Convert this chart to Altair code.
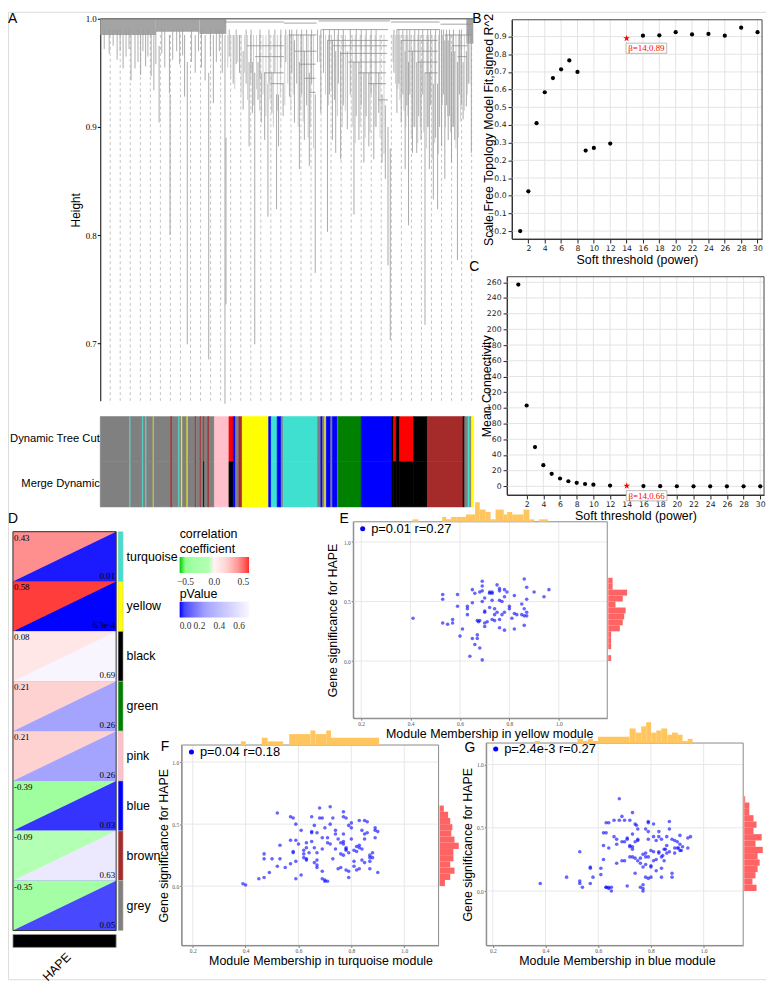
import altair as alt
import pandas as pd

W, H = 764, 975
M = 8
SANS = "Liberation Sans"
SERIF = "Liberation Serif"
DEJA = "DejaVu Sans"


def cx(p):
    return p - M


def cy(p):
    return p - M


def lin(dom, r0, r1):
    return alt.Scale(domain=list(dom), range=[r0, r1], nice=False, zero=False)


# ======================= DATA =======================
# ---- Panel A: gene dendrogram (gene order index, merge height) ----
dash_pos = [100, 201, 302, 404, 505, 606, 707, 808, 910, 1011, 1112, 1213, 1314, 1416, 1517, 1618, 1719,
            1820, 1922, 2023, 2124, 2225, 2326, 2428, 2529, 2630, 2731, 2832, 2934, 3035, 3136, 3237,
            3338, 3440, 3541, 3642, 3743]
den_leaf = [230, 310, 350, 407, 457, 513, 540, 593, 697, 703, 850, 877, 957, 1057, 1093, 1140, 1257, 1267,
            1340, 1403, 1440, 1500, 1533, 1557, 1590, 1623, 1657, 1690, 1730, 1777, 1797, 1843, 1907, 1957,
            2007, 2057, 2107, 2167, 2223, 2290, 2340, 2373, 2423, 2490, 2557, 2607, 2657, 2707, 2757, 2807,
            2840, 2873, 2923, 2900, 2990, 3033, 3073, 3107, 3147, 3190, 3233, 3273, 3317, 3357, 3400, 3440,
            3473, 3507, 3540, 3573, 3600, 3657, 3690, 3740]
den_top = [0.985, 0.985, 0.985, 0.985, 0.985, 0.985, 0.985, 0.975, 0.985, 0.93, 0.985, 0.96, 0.985, 0.985,
           0.95, 0.985, 0.985, 0.89, 0.985, 0.985, 0.97, 0.96, 0.96, 0.95, 0.96, 0.95, 0.95, 0.94, 0.95, 0.93,
           0.93, 0.94, 0.99, 0.98, 0.96, 0.97, 0.95, 0.93, 0.99, 0.98, 0.98, 0.97, 0.97, 0.97, 0.96, 0.96,
           0.95, 0.95, 0.94, 0.95, 0.93, 0.92, 0.88, 0.90, 0.99, 0.98, 0.97, 0.96, 0.97, 0.96, 0.96, 0.95,
           0.95, 0.94, 0.94, 0.99, 0.98, 0.98, 0.97, 0.97, 0.96, 0.96, 0.97, 0.99]
den_bot = [0.954, 0.943, 0.954, 0.948, 0.956, 0.947, 0.934, 0.904, 0.931, 0.80, 0.928, 0.699, 0.95, 0.943,
           0.685, 0.922, 0.644, 0.736, 0.94, 0.95, 0.916, 0.882, 0.913, 0.699, 0.925, 0.904, 0.888, 0.817,
           0.913, 0.824, 0.882, 0.91, 0.928, 0.904, 0.861, 0.888, 0.864, 0.765, 0.913, 0.803, 0.888, 0.876,
           0.87, 0.898, 0.819, 0.888, 0.867, 0.882, 0.87, 0.913, 0.867, 0.852, 0.703, 0.772, 0.913, 0.904,
           0.861, 0.809, 0.876, 0.876, 0.888, 0.717, 0.861, 0.833, 0.824, 0.882, 0.852, 0.888, 0.867, 0.888,
           0.777, 0.907, 0.919, 0.876]
short_leaf = [40, 90, 130, 170, 200, 260, 290, 380, 430, 480, 560, 620, 650, 730, 770, 800, 830, 920, 990,
              1020, 1110, 1170, 1200, 1230, 1300, 1370, 1470, 1520, 1610, 1700, 1760, 1820, 1870, 1930, 1980,
              2030, 2080, 2130, 2190, 2250, 2310, 2360, 2400, 2450, 2520, 2580, 2630, 2680, 2730, 2780, 2960,
              3010, 3050, 3090, 3120, 3170, 3210, 3250, 3300, 3330, 3380, 3420, 3460, 3490, 3520, 3560, 3620,
              3640, 3710]
short_bot = [0.972, 0.968, 0.975, 0.962, 0.97, 0.965, 0.972, 0.96, 0.97, 0.965, 0.958, 0.968, 0.955, 0.962,
             0.97, 0.958, 0.966, 0.96, 0.97, 0.955, 0.965, 0.96, 0.97, 0.95, 0.965, 0.958, 0.94, 0.95, 0.945,
             0.94, 0.95, 0.955, 0.96, 0.95, 0.94, 0.93, 0.92, 0.94, 0.96, 0.95, 0.93, 0.925, 0.94, 0.92, 0.93,
             0.91, 0.92, 0.91, 0.93, 0.90, 0.95, 0.94, 0.93, 0.92, 0.93, 0.90, 0.91, 0.93, 0.90, 0.92, 0.89,
             0.90, 0.93, 0.92, 0.91, 0.90, 0.93, 0.92, 0.94]
fine_leaf = [1285, 1315, 1355, 1385, 1420, 1455, 1485, 1515, 1545, 1575, 1605, 1640, 1670, 1710, 1745, 1785,
             1815, 1860, 1890, 1920, 1945, 1995, 2020, 2045, 2095, 2120, 2150, 2210, 2270, 2300, 2330, 2390,
             2440, 2470, 2540, 2570, 2620, 2670, 2720, 2770, 2820, 2860, 2950, 2975, 3000, 3020, 3060, 3080,
             3100, 3135, 3160, 3200, 3225, 3260, 3290, 3310, 3345, 3370, 3410, 3450, 3480, 3500, 3530, 3550,
             3585, 3610, 3630, 3670, 3700, 3725]
fine_bot = [0.955, 0.945, 0.935, 0.96, 0.93, 0.95, 0.925, 0.94, 0.92, 0.935, 0.915, 0.93, 0.91, 0.925, 0.90,
            0.915, 0.93, 0.92, 0.94, 0.915, 0.93, 0.90, 0.915, 0.905, 0.89, 0.90, 0.88, 0.96, 0.93, 0.92, 0.935,
            0.91, 0.90, 0.915, 0.90, 0.885, 0.90, 0.89, 0.895, 0.90, 0.89, 0.875, 0.96, 0.94, 0.935, 0.925,
            0.915, 0.90, 0.91, 0.89, 0.90, 0.885, 0.90, 0.895, 0.88, 0.90, 0.87, 0.885, 0.875, 0.92, 0.90,
            0.91, 0.895, 0.90, 0.88, 0.89, 0.905, 0.915, 0.93, 0.94]
hz_x1 = [1250, 1480, 1560, 1650, 1720, 1850, 1900, 1960, 2010, 2060, 2110, 2200, 2230, 2290, 2340, 2420,
         2500, 2600, 2700, 2800, 2930, 2990, 3030, 3100, 3200, 3270, 3430, 3470, 3540, 3600]
hz_x2 = [1850, 1850, 1850, 1850, 1850, 2180, 2180, 2180, 2170, 2170, 2170, 2920, 2900, 2900, 2890, 2890,
         2880, 2880, 2880, 2900, 3420, 3420, 3400, 3400, 3400, 3400, 3740, 3740, 3700, 3690]
hz_h = [0.997, 0.975, 0.965, 0.95, 0.94, 0.996, 0.985, 0.97, 0.958, 0.945, 0.932, 0.998, 0.99, 0.98, 0.975,
        0.968, 0.96, 0.95, 0.94, 0.925, 0.997, 0.99, 0.98, 0.97, 0.96, 0.95, 0.995, 0.985, 0.975, 0.965]
band_x1 = [0, 560, 1000, 3690]
band_x2 = [560, 1000, 1270, 3760]
band_bot = [0.985, 0.988, 0.986, 0.977]

cb_rows = ["Dynamic Tree Cut", "Merge Dynamic"]
cb_start = [0, 297, 307, 423, 433, 457, 467, 533, 540, 710, 723, 790, 800, 817, 827, 873, 883, 957, 967, 1007,
            1017, 1040, 1050, 1083, 1097, 1150, 1297, 1340, 1363, 1397, 1430, 1697, 1723, 1783, 1823, 1843,
            2190, 2223, 2240, 2263, 2277, 2323, 2340, 2390, 2397, 2630, 2940, 2957, 2983, 3017, 3157, 3297,
            3657, 3673, 3707, 3723, 3740]
cb_end = 3763
cb_dynamic = ["grey", "turquoise", "grey", "turquoise", "grey", "turquoise", "grey", "yellow", "grey", "brown",
              "grey", "turquoise", "grey", "yellow", "grey", "yellow", "grey", "brown", "grey", "brown",
              "grey", "red", "grey", "brown", "grey", "pink", "red", "blue", "grey", "brown",
              "yellow", "blue", "turquoise", "blue", "grey", "turquoise", "grey", "blue", "grey", "yellow",
              "blue", "grey", "blue", "grey", "green", "blue", "black", "red", "black", "red",
              "black", "brown", "black", "grey", "turquoise", "grey", "yellow"]
cb_merge = ["grey", "turquoise", "grey", "turquoise", "grey", "turquoise", "grey", "yellow", "grey", "brown",
            "grey", "turquoise", "grey", "yellow", "grey", "yellow", "grey", "brown", "grey", "brown",
            "grey", "black", "grey", "brown", "grey", "pink", "black", "blue", "grey", "brown",
            "yellow", "blue", "turquoise", "blue", "grey", "turquoise", "grey", "blue", "grey", "yellow",
            "blue", "grey", "blue", "grey", "green", "blue", "black", "black", "black", "black",
            "black", "brown", "black", "grey", "turquoise", "grey", "yellow"]

# ---- Panels B / C: soft threshold ----
powers = [1, 2, 3, 4, 5, 6, 7, 8, 9, 10, 12, 14, 16, 18, 20, 22, 24, 26, 28, 30]
sft_r2 = [-0.20, 0.025, 0.41, 0.585, 0.665, 0.715, 0.765, 0.70, 0.255, 0.27, 0.295, 0.89, 0.905, 0.907,
          0.925, 0.912, 0.915, 0.905, 0.95, 0.925]
mean_k = [257, 103, 50, 27, 16, 10, 6.5, 4.5, 3.0, 2.2, 1.0, 0.66, 0.35, 0.25, 0.15, 0.12, 0.1, 0.08, 0.07, 0.06]
chosen_power = 14

# ---- Panel D: module-trait relationships ----
modules = ["turquoise", "yellow", "black", "green", "pink", "blue", "brown", "grey"]
mod_cor = [0.43, 0.58, 0.08, 0.21, 0.21, -0.39, -0.09, -0.35]
mod_cor_lab = ["0.43", "0.58", "0.08", "0.21", "0.21", "-0.39", "-0.09", "-0.35"]
mod_p = [0.01, 0.00063, 0.69, 0.26, 0.26, 0.03, 0.63, 0.05]
mod_p_lab = ["0.01", "6.3e-4", "0.69", "0.26", "0.26", "0.03", "0.63", "0.05"]
trait = ["HAPE"]

# ---- Panels E / F / G: MM vs GS ----
E_stat = "p=0.01 r=0.27"
E_mm = [0.41, 0.53, 0.53, 0.53, 0.55, 0.57, 0.57, 0.59, 0.59, 0.60, 0.61, 0.63, 0.63, 0.63, 0.64, 0.65, 0.65,
        0.65, 0.66, 0.66, 0.67, 0.67, 0.67, 0.675, 0.68, 0.68, 0.69, 0.69, 0.69, 0.69, 0.70, 0.70, 0.70, 0.70,
        0.70, 0.71, 0.72, 0.72, 0.73, 0.73, 0.73, 0.74, 0.74, 0.74, 0.75, 0.75, 0.76, 0.76, 0.76, 0.76, 0.76,
        0.77, 0.77, 0.78, 0.78, 0.78, 0.78, 0.79, 0.80, 0.80, 0.81, 0.82, 0.82, 0.82, 0.83, 0.85, 0.86, 0.86,
        0.86, 0.86, 0.87, 0.87, 0.87, 0.87, 0.90, 0.94, 0.96, 0.69, 0.68, 0.72, 0.73, 0.85]
E_gs = [0.36, 0.56, 0.52, 0.32, 0.31, 0.35, 0.32, 0.56, 0.46, 0.21, 0.27, 0.46, 0.44, 0.39, 0.04, 0.60, 0.19,
        0.49, 0.14, 0.57, 0.22, 0.19, 0.34, 0.33, 0.11, 0.58, 0.67, 0.50, 0.01, 0.59, 0.32, 0.42, 0.53, 0.41,
        0.29, 0.33, 0.45, 0.58, 0.57, 0.35, 0.51, 0.34, 0.44, 0.39, 0.64, 0.41, 0.61, 0.59, 0.35, 0.28, 0.51,
        0.50, 0.39, 0.41, 0.26, 0.60, 0.54, 0.58, 0.46, 0.44, 0.36, 0.40, 0.55, 0.27, 0.39, 0.48, 0.69, 0.38,
        0.44, 0.30, 0.62, 0.41, 0.38, 0.52, 0.58, 0.54, 0.60, 0.63, 0.34, 0.57, 0.58, 0.39]
E_top_lo = [0.408, 0.528, 0.544, 0.564, 0.587, 0.624, 0.661, 0.680, 0.704, 0.724, 0.744, 0.777, 0.791, 0.811,
            0.831, 0.857, 0.881, 0.920]
E_top_hi = [0.431, 0.544, 0.564, 0.587, 0.624, 0.661, 0.680, 0.704, 0.724, 0.744, 0.777, 0.791, 0.811, 0.831,
            0.857, 0.881, 0.901, 0.957]
E_top_n = [1, 2, 1, 2, 2, 3, 8, 5, 4, 1, 5, 3, 4, 3, 3, 5, 1, 1]
E_right_lo = [0.00, 0.05, 0.10, 0.15, 0.20, 0.25, 0.30, 0.35, 0.40, 0.45, 0.50, 0.55, 0.60, 0.65]
E_right_n = [2, 0, 2, 2, 2, 8, 10, 11, 12, 5, 10, 13, 3, 3]

F_stat = "p=0.04 r=0.18"
F_mm = [0.39, 0.40, 0.45, 0.47, 0.47, 0.47, 0.49, 0.50, 0.52, 0.52, 0.53, 0.53, 0.55, 0.57, 0.57, 0.57, 0.58,
        0.58, 0.58, 0.59, 0.59, 0.59, 0.59, 0.60, 0.61, 0.62, 0.62, 0.62, 0.63, 0.63, 0.63, 0.63, 0.64, 0.65,
        0.65, 0.65, 0.65, 0.66, 0.66, 0.66, 0.67, 0.67, 0.67, 0.68, 0.68, 0.69, 0.69, 0.69, 0.69, 0.69, 0.70,
        0.70, 0.70, 0.71, 0.71, 0.71, 0.72, 0.72, 0.72, 0.73, 0.73, 0.74, 0.74, 0.75, 0.75, 0.76, 0.76, 0.77,
        0.77, 0.77, 0.77, 0.77, 0.77, 0.78, 0.78, 0.78, 0.78, 0.78, 0.79, 0.79, 0.79, 0.80, 0.80, 0.81, 0.81,
        0.81, 0.82, 0.82, 0.82, 0.83, 0.83, 0.83, 0.83, 0.84, 0.84, 0.84, 0.85, 0.85, 0.85, 0.85, 0.86, 0.87,
        0.87, 0.87, 0.87, 0.88, 0.88, 0.89, 0.89, 0.89, 0.90, 0.90, 0.74, 0.76, 0.80, 0.79, 0.67, 0.61, 0.67,
        0.86]
F_gs = [0.02, 0.01, 0.06, 0.07, 0.22, 0.26, 0.11, 0.22, 0.59, 0.16, 0.33, 0.22, 0.15, 0.37, 0.56, 0.18, 0.28,
        0.55, 0.27, 0.50, 0.06, 0.37, 0.20, 0.34, 0.09, 0.26, 0.23, 0.29, 0.31, 0.22, 0.35, 0.21, 0.27, 0.56,
        0.43, 0.36, 0.44, 0.19, 0.49, 0.31, 0.27, 0.17, 0.15, 0.55, 0.63, 0.55, 0.39, 0.12, 0.06, 0.30, 0.04,
        0.05, 0.47, 0.35, 0.39, 0.04, 0.64, 0.50, 0.34, 0.22, 0.55, 0.42, 0.45, 0.14, 0.38, 0.15, 0.35, 0.36,
        0.42, 0.25, 0.56, 0.60, 0.34, 0.31, 0.30, 0.13, 0.29, 0.55, 0.07, 0.49, 0.12, 0.51, 0.47, 0.29, 0.20,
        0.16, 0.32, 0.13, 0.28, 0.53, 0.33, 0.31, 0.14, 0.45, 0.21, 0.30, 0.53, 0.42, 0.19, 0.38, 0.43, 0.20,
        0.14, 0.23, 0.25, 0.23, 0.27, 0.47, 0.45, 0.39, 0.44, 0.11, 0.30, 0.26, 0.38, 0.27, 0.21, 0.45, 0.43,
        0.52]
F_top_lo = [0.382, 0.461, 0.483, 0.565, 0.645, 0.664, 0.705, 0.723]
F_top_hi = [0.401, 0.483, 0.542, 0.645, 0.664, 0.705, 0.723, 0.905]
F_top_n = [1, 2, 1, 3, 4, 3, 4, 2]
F_right_lo = [0.00, 0.05, 0.10, 0.15, 0.20, 0.25, 0.30, 0.35, 0.40, 0.45, 0.50, 0.55, 0.60]
F_right_n = [5, 10, 14, 10, 13, 13, 18, 14, 11, 12, 10, 8, 4]

G_stat = "p=2.4e-3 r=0.27"
G_mm = [0.38, 0.48, 0.53, 0.53, 0.53, 0.54, 0.57, 0.57, 0.57, 0.58, 0.61, 0.61, 0.62, 0.62, 0.62, 0.63, 0.63,
        0.63, 0.63, 0.64, 0.64, 0.64, 0.64, 0.65, 0.65, 0.66, 0.66, 0.67, 0.68, 0.68, 0.69, 0.69, 0.69, 0.70,
        0.70, 0.71, 0.71, 0.71, 0.72, 0.72, 0.72, 0.73, 0.73, 0.73, 0.73, 0.73, 0.74, 0.74, 0.74, 0.745, 0.74,
        0.75, 0.75, 0.75, 0.76, 0.76, 0.76, 0.77, 0.77, 0.77, 0.77, 0.77, 0.78, 0.78, 0.78, 0.78, 0.78, 0.79,
        0.79, 0.79, 0.79, 0.79, 0.79, 0.80, 0.80, 0.80, 0.80, 0.81, 0.81, 0.81, 0.81, 0.82, 0.82, 0.82, 0.83,
        0.83, 0.83, 0.83, 0.84, 0.84, 0.84, 0.845, 0.85, 0.85, 0.855, 0.86, 0.86, 0.86, 0.87, 0.87, 0.87, 0.88,
        0.88, 0.88, 0.89, 0.89, 0.89, 0.90, 0.90, 0.905, 0.91, 0.91, 0.91, 0.915, 0.92, 0.94, 0.94, 0.95, 0.70,
        0.67, 0.75, 0.84, 0.67, 0.72]
G_gs = [0.06, 0.11, 0.06, 0.31, 0.08, 0.03, 0.06, 0.18, 0.19, 0.11, 0.13, 0.18, 0.46, 0.25, 0.36, 0.03, 0.54,
        0.03, 0.46, 0.54, 0.34, 0.03, 0.02, 0.03, 0.00, 0.43, 0.56, 0.22, 0.56, 0.73, 0.39, 0.24, 0.59, 0.24,
        0.39, 0.04, 0.41, 0.42, 0.56, 0.36, 0.35, 0.27, 0.62, 0.35, 0.33, 0.45, 0.53, 0.39, 0.14, 0.52, 0.26,
        0.40, 0.49, 0.41, 0.26, 0.22, 0.03, 0.05, 0.02, 0.00, 0.19, 0.29, 0.30, 0.27, 0.21, 0.49, 0.11, 0.27,
        0.54, 0.55, 0.10, 0.47, 0.41, 0.20, 0.19, 0.11, 0.32, 0.43, 0.53, 0.24, 0.31, 0.40, 0.16, 0.25, 0.47,
        0.31, 0.30, 0.43, 0.27, 0.11, 0.18, 0.28, 0.24, 0.33, 0.33, 0.30, 0.36, 0.43, 0.31, 0.55, 0.49, 0.11,
        0.41, 0.14, 0.30, 0.34, 0.40, 0.34, 0.39, 0.34, 0.32, 0.37, 0.44, 0.32, 0.35, 0.42, 0.34, 0.43, 0.56,
        0.41, 0.24, 0.41, 0.37, 0.27]
G_top_lo = [0.360, 0.521, 0.542, 0.561, 0.580, 0.599, 0.719, 0.742, 0.763, 0.782, 0.801, 0.820, 0.839, 0.862,
            0.880, 0.902, 0.920, 0.939]
G_top_hi = [0.379, 0.542, 0.561, 0.580, 0.599, 0.719, 0.742, 0.763, 0.782, 0.801, 0.820, 0.839, 0.862, 0.880,
            0.902, 0.920, 0.939, 0.958]
G_top_n = [1, 2, 1, 2, 1, 3, 7, 5, 8, 10, 5, 6, 7, 4, 5, 4, 1, 2]
G_right_lo = [0.00, 0.05, 0.10, 0.15, 0.20, 0.25, 0.30, 0.35, 0.40, 0.45, 0.50, 0.55, 0.60, 0.65, 0.70]
G_right_n = [12, 8, 11, 13, 15, 13, 18, 11, 17, 9, 12, 9, 5, 5, 1]
GS_BIN = 0.05

# ======================= CHART =======================
STAR = ("M0,-1L0.2245,-0.309L0.9511,-0.309L0.3633,0.118L0.5878,0.809L0,0.382L-0.5878,0.809"
        "L-0.3633,0.118L-0.9511,-0.309L-0.2245,-0.309Z")
BOXPATH = "M-1,-0.25L1,-0.25L1,0.25L-1,0.25Z"

layers = []


def grid_layers(xvals, yvals, XS, YS, xdom, ydom, color):
    out = []
    gx = pd.DataFrame({"v": xvals})
    gx["a"] = ydom[0]
    gx["b"] = ydom[1]
    out.append(alt.Chart(gx).mark_rule(color=color, strokeWidth=1).encode(
        x=alt.X("v:Q", scale=XS, axis=None), y=alt.Y("a:Q", scale=YS, axis=None), y2="b:Q"))
    gy = pd.DataFrame({"v": yvals})
    gy["a"] = xdom[0]
    gy["b"] = xdom[1]
    out.append(alt.Chart(gy).mark_rule(color=color, strokeWidth=1).encode(
        y=alt.Y("v:Q", scale=YS, axis=None), x=alt.X("a:Q", scale=XS, axis=None), x2="b:Q"))
    return out


# ---------------- Panel A ----------------
GENE = (0, 3760)
HGT = (0.6468, 1.0)
GX = lin(GENE, cx(101), cx(477))
HY = lin(HGT, cy(400), cy(15))

axis_a = alt.Axis(orient="left", offset=-cx(101), values=[0.7, 0.8, 0.9, 1.0], format=".1f",
                  labelFont=SERIF, labelFontSize=9, labelColor="black", labelPadding=1, tickSize=3,
                  tickColor="black", domainColor="black", grid=False, title="Height", titleFont=SANS,
                  titleFontSize=12, titleFontWeight="normal", titleColor="black", titlePadding=3,
                  labelOverlap=False)

dash_df = pd.DataFrame({"g": dash_pos})
dash_df["top"] = 0.985
dash_df["bot"] = HGT[0]
layers.append(alt.Chart(dash_df).mark_rule(color="#b3b3b3", strokeDash=[3, 3], strokeWidth=0.8).encode(
    x=alt.X("g:Q", scale=GX, axis=None), y=alt.Y("top:Q", scale=HY, axis=None), y2="bot:Q"))

band_df = pd.DataFrame(list(zip(band_x1, band_x2, band_bot)), columns=["x1", "x2", "bot"])
band_df["top"] = HGT[1]
layers.append(alt.Chart(band_df).mark_rect(color="#a4a4a4").encode(
    x=alt.X("x1:Q", scale=GX, axis=None), x2="x2:Q", y=alt.Y("top:Q", scale=HY, axis=None), y2="bot:Q"))

fine_df = pd.DataFrame(list(zip(fine_leaf, fine_bot)), columns=["g", "bot"])
fine_df["top"] = 0.985
layers.append(alt.Chart(fine_df).mark_rule(color="#c2c2c2", strokeWidth=0.8).encode(
    x=alt.X("g:Q", scale=GX, axis=None), y=alt.Y("top:Q", scale=HY, axis=None), y2="bot:Q"))

short_df = pd.DataFrame(list(zip(short_leaf, short_bot)), columns=["g", "bot"])
short_df["top"] = 0.99
layers.append(alt.Chart(short_df).mark_rule(color="#9a9a9a", strokeWidth=0.8).encode(
    x=alt.X("g:Q", scale=GX, axis=None), y=alt.Y("top:Q", scale=HY, axis=None), y2="bot:Q"))

den_df = pd.DataFrame(list(zip(den_leaf, den_top, den_bot)), columns=["g", "top", "bot"])
layers.append(alt.Chart(den_df).mark_rule(color="#a0a0a0", strokeWidth=0.9).encode(
    x=alt.X("g:Q", scale=GX, axis=None), y=alt.Y("top:Q", scale=HY, axis=axis_a), y2="bot:Q"))

hz_df = pd.DataFrame(list(zip(hz_x1, hz_x2, hz_h)), columns=["x1", "x2", "h"])
layers.append(alt.Chart(hz_df).mark_rule(color="#8c8c8c", strokeWidth=0.8).encode(
    x=alt.X("x1:Q", scale=GX, axis=None), x2="x2:Q", y=alt.Y("h:Q", scale=HY, axis=None)))

topline_df = pd.DataFrame({"x1": [GENE[0]], "x2": [GENE[1]], "h": [HGT[1]]})
layers.append(alt.Chart(topline_df).mark_rule(color="#7c7c7c", strokeWidth=1.5).encode(
    x=alt.X("x1:Q", scale=GX, axis=None), x2="x2:Q", y=alt.Y("h:Q", scale=HY, axis=None)))

cb = []
for i, s in enumerate(cb_start):
    e = cb_start[i + 1] if i + 1 < len(cb_start) else cb_end
    cb.append({"s": s, "e": e, "row": cb_rows[0], "c": cb_dynamic[i]})
    cb.append({"s": s, "e": e, "row": cb_rows[1], "c": cb_merge[i]})
cb_df = pd.DataFrame(cb)
layers.append(alt.Chart(cb_df).mark_rect(strokeWidth=0.6).encode(
    x=alt.X("s:Q", scale=GX, axis=None), x2="e:Q",
    y=alt.Y("row:N", sort=cb_rows,
            scale=alt.Scale(domain=cb_rows, range=[cy(416), cy(507)], paddingInner=0, paddingOuter=0),
            axis=alt.Axis(orient="left", offset=-cx(101), ticks=False, domain=False, labelFont=SANS,
                          labelFontSize=11.3, labelColor="black", labelPadding=1, labelLimit=0, title=None)),
    color=alt.Color("c:N", scale=None),
    stroke=alt.Stroke("c:N", scale=None)))


# ---------------- Panels B / C ----------------
def bc_xaxis(bottom_page):
    return alt.Axis(orient="bottom", offset=cy(bottom_page) - H, values=list(range(2, 31, 2)),
                    labelFont=DEJA, labelFontSize=7.8, labelColor="#222", labelPadding=2, tickSize=4,
                    tickColor="#222", domainColor="#222", grid=False,
                    title="Soft threshold (power)", titleFont=SANS, titleFontSize=12.5,
                    titleFontWeight="normal", titleColor="black", titlePadding=1, labelFlush=False,
                    labelOverlap=False)


def bc_yaxis(left_page, values, fmt, title, tpad):
    return alt.Axis(orient="left", offset=-cx(left_page), values=values, format=fmt,
                    labelFont=DEJA, labelFontSize=7.8, labelColor="#222", labelPadding=2, tickSize=4,
                    tickColor="#222", domainColor="#222", grid=False,
                    title=title, titleFont=SANS, titleFontSize=12.5, titleFontWeight="normal",
                    titleColor="black", titlePadding=tpad, labelFlush=False, labelOverlap=False)


sel = powers.index(chosen_power)
X_TICKS_BC = list(range(2, 31, 2))


def soft_panel(vals, xdom, ydom, box, yvalues, yfmt, ytitle, ytpad):
    left, right, top, bottom = box
    XS = lin(xdom, cx(left), cx(right))
    YS = lin(ydom, cy(bottom), cy(top))
    out = grid_layers(X_TICKS_BC, yvalues, XS, YS, xdom, ydom, "#e3e3e3")
    frame = pd.DataFrame({"x0": [xdom[0]], "x1": [xdom[1]], "y0": [ydom[0]], "y1": [ydom[1]]})
    out.append(alt.Chart(frame).mark_rect(fillOpacity=0, stroke="#444", strokeWidth=1).encode(
        x=alt.X("x0:Q", scale=XS, axis=None), x2="x1:Q", y=alt.Y("y0:Q", scale=YS, axis=None), y2="y1:Q"))
    df = pd.DataFrame({"p": powers, "v": vals})
    pts = df[df["p"] != chosen_power]
    out.append(alt.Chart(pts).mark_circle(size=18, color="black", opacity=1).encode(
        x=alt.X("p:Q", scale=XS, axis=bc_xaxis(bottom)),
        y=alt.Y("v:Q", scale=YS, axis=bc_yaxis(left, yvalues, yfmt, ytitle, ytpad))))
    star = df[df["p"] == chosen_power].copy()
    star["lab"] = "\u03b2=%d,%.2f" % (chosen_power, vals[sel])
    out.append(alt.Chart(star).mark_point(shape=BOXPATH, size=1681, filled=True, fill="white",
                                          stroke="#aaaaaa", strokeWidth=0.8, opacity=1,
                                          xOffset=20, yOffset=10).encode(
        x=alt.X("p:Q", scale=XS, axis=None), y=alt.Y("v:Q", scale=YS, axis=None)))
    out.append(alt.Chart(star).mark_point(shape=STAR, filled=True, color="red", size=50, opacity=1).encode(
        x=alt.X("p:Q", scale=XS, axis=None), y=alt.Y("v:Q", scale=YS, axis=None)))
    out.append(alt.Chart(star).mark_text(color="red", font=SERIF, fontSize=9, dx=20, dy=10).encode(
        x=alt.X("p:Q", scale=XS, axis=None), y=alt.Y("v:Q", scale=YS, axis=None), text="lab:N"))
    return out


layers += soft_panel(sft_r2, (0, 30.55), (-0.245, 0.995), (516, 768, 16, 237),
                     [-0.2, -0.1, 0.0, 0.1, 0.2, 0.3, 0.4, 0.5, 0.6, 0.7, 0.8, 0.9], ".1f",
                     "Scale Free Topology Model Fit,signed R^2", -8)
layers += soft_panel(mean_k, (-0.35, 30.45), (-11, 267), (511, 770, 275, 495),
                     list(range(0, 261, 20)), "d", "Mean Connectivity", -7)

# ---------------- Panel D ----------------
NM = len(modules)
D_L, D_R, D_T, D_B = 13, 117, 532, 934
DX = lin((0, 1), cx(D_L), cx(D_R))
DY = lin((0, NM), cy(D_T), cy(D_B))
COR_SCALE = alt.Scale(domain=[-0.6, -0.55, -0.35, 0, 0.21, 0.43, 0.6],
                      range=["#00cc00", "#8cff8c", "#a4ffa4", "#ffffff", "#ffd2d2", "#ff8e8e", "#ff2e2e"])
P_SCALE = alt.Scale(domain=[0, 0.05, 0.26, 0.7], range=["#0000ff", "#4848ff", "#a4a4ff", "#ffffff"])

cell_w = D_R - D_L
cell_h = (D_B - D_T) / NM
r = cell_h / cell_w
TRI_UL = "M-1,%.4fL1,%.4fL-1,%.4fZ" % (-r, -r, r)

cells = pd.DataFrame({"module": modules, "cor": mod_cor, "p": mod_p, "cl": mod_cor_lab, "pl": mod_p_lab})
cells["row"] = range(NM)
cells["xc"] = 0.5
cells["yc"] = cells["row"] + 0.5
cells["x0"] = 0
cells["x1"] = 1
cells["yb"] = cells["row"] + 1

leg_common = dict(orient="none", direction="horizontal", titleFont=SANS, titleFontSize=12.5,
                  titleFontWeight="normal", titleColor="black", gradientLength=70, gradientThickness=16,
                  gradientStrokeWidth=0, format=".1f", labelFont=SERIF, labelFontSize=9.5, labelColor="#333",
                  labelOffset=4, labelOverlap=False, labelAlign="center", padding=0)

# correlation colour (full cell, supplies the legend; its visible part is the upper-left triangle)
layers.append(alt.Chart(cells).mark_rect().encode(
    x=alt.X("x0:Q", scale=DX, axis=None), x2="x1:Q", y=alt.Y("row:Q", scale=DY, axis=None), y2="yb:Q",
    color=alt.Color("cor:Q", scale=COR_SCALE,
                    legend=alt.Legend(legendX=cx(181), legendY=cy(528), title=["correlation", "coefficient"],
                                      titleLineHeight=15, titlePadding=2, values=[-0.5, 0.0, 0.5],
                                      **leg_common))))
# p-value colour (full cell, lower-right triangle remains visible)
layers.append(alt.Chart(cells).mark_rect().encode(
    x=alt.X("x0:Q", scale=DX, axis=None), x2="x1:Q", y=alt.Y("row:Q", scale=DY, axis=None), y2="yb:Q",
    color=alt.Color("p:Q", scale=P_SCALE,
                    legend=alt.Legend(legendX=cx(181), legendY=cy(589), title="pValue", titlePadding=1,
                                      values=[0.0, 0.2, 0.4, 0.6], **leg_common))))
# correlation upper-left triangle on top
layers.append(alt.Chart(cells).mark_point(shape=TRI_UL, size=cell_w * cell_w, filled=True, opacity=1,
                                          strokeWidth=0).encode(
    x=alt.X("xc:Q", scale=DX, axis=None), y=alt.Y("yc:Q", scale=DY, axis=None),
    color=alt.Color("cor:Q", scale=COR_SCALE, legend=None)))
layers.append(alt.Chart(cells).mark_text(align="left", baseline="top", dx=1, dy=2, font=SERIF,
                                         fontSize=9, color="black").encode(
    x=alt.X("x0:Q", scale=DX, axis=None), y=alt.Y("row:Q", scale=DY, axis=None), text="cl:N"))
layers.append(alt.Chart(cells).mark_text(align="right", baseline="bottom", dx=-1, dy=-1,
                                         font=SERIF, fontSize=9, color="black").encode(
    x=alt.X("x1:Q", scale=DX, axis=None), y=alt.Y("yb:Q", scale=DY, axis=None), text="pl:N"))
dframe = pd.DataFrame({"x0": [0], "x1": [1], "y0": [0], "y1": [NM]})
layers.append(alt.Chart(dframe).mark_rect(fillOpacity=0, stroke="#333", strokeWidth=1).encode(
    x=alt.X("x0:Q", scale=DX, axis=None), x2="x1:Q", y=alt.Y("y0:Q", scale=DY, axis=None), y2="y1:Q"))

layers.append(alt.Chart(cells).mark_rect(stroke="#bbbbbb", strokeWidth=0.5).encode(
    x=alt.X("x0:Q", scale=lin((0, 1), cx(119), cx(124)), axis=None), x2="x1:Q",
    y=alt.Y("module:N", sort=modules,
            scale=alt.Scale(domain=modules, range=[cy(D_T), cy(D_B)], paddingInner=0, paddingOuter=0),
            axis=alt.Axis(orient="right", offset=cx(124) - W, ticks=False, domain=False, labelFont=SANS,
                          labelFontSize=12.5, labelColor="black", labelPadding=3, labelLimit=0, title=None)),
    color=alt.Color("module:N", scale=None)))

trait_df = pd.DataFrame({"trait": trait})
trait_df["y0"] = 0
trait_df["y1"] = 1
layers.append(alt.Chart(trait_df).mark_rect(color="black", stroke="#999999", strokeWidth=0.8).encode(
    x=alt.X("trait:N", scale=alt.Scale(domain=trait, range=[cx(D_L), cx(D_R)], paddingInner=0, paddingOuter=0),
            axis=alt.Axis(orient="bottom", offset=cy(951) - H, labelAngle=-45, ticks=False, domain=False,
                          labelFont=SANS, labelFontSize=12.5, labelColor="black", labelPadding=3, title=None)),
    y=alt.Y("y0:Q", scale=lin((0, 1), cy(951), cy(938)), axis=None), y2="y1:Q"))


# ---------------- Panels E / F / G ----------------
MM_TICKS = [0.2, 0.4, 0.6, 0.8, 1.0]
GS_TICKS = [0.0, 0.5, 1.0]


def scatter_panel(mm, gs, stat, box, xdom, ydom, xtitle, xtitle_c, ytpad, leg, tlo, thi, tn, tpx, rlo, rn, rpx):
    left, right, top, bottom = box
    XS = lin(xdom, cx(left), cx(right))
    YS = lin(ydom, cy(bottom), cy(top))
    out = grid_layers(MM_TICKS, GS_TICKS, XS, YS, xdom, ydom, "#e8e8e8")
    frame = pd.DataFrame({"x0": [xdom[0]], "x1": [xdom[1]], "y0": [ydom[0]], "y1": [ydom[1]]})
    out.append(alt.Chart(frame).mark_rect(fillOpacity=0, stroke="#8a8a8a", strokeWidth=1).encode(
        x=alt.X("x0:Q", scale=XS, axis=None), x2="x1:Q", y=alt.Y("y0:Q", scale=YS, axis=None), y2="y1:Q"))
    xaxis = alt.Axis(orient="bottom", offset=cy(bottom) - H, values=MM_TICKS, format=".1f",
                     labelFont=SERIF, labelFontSize=5.5, labelColor="#555", labelPadding=1, tickSize=2,
                     tickColor="#777", domainColor="#8a8a8a", grid=False, title=xtitle,
                     titleFont=SANS, titleFontSize=12.5, titleFontWeight="normal", titleColor="black",
                     titlePadding=1, titleX=cx(xtitle_c), labelFlush=False, labelOverlap=False)
    yaxis = alt.Axis(orient="left", offset=-cx(left), values=GS_TICKS, format=".1f",
                     labelFont=SERIF, labelFontSize=5.5, labelColor="#555", labelPadding=1, tickSize=2,
                     tickColor="#777", domainColor="#8a8a8a", grid=False,
                     title="Gene significance for HAPE", titleFont=SANS, titleFontSize=12.5,
                     titleFontWeight="normal", titleColor="black", titlePadding=ytpad, labelFlush=False,
                     labelOverlap=False)
    pts = pd.DataFrame(list(zip(mm, gs)), columns=["mm", "gs"])
    pts["stat"] = stat
    out.append(alt.Chart(pts).mark_circle(size=13, opacity=0.6).encode(
        x=alt.X("mm:Q", scale=XS, axis=xaxis), y=alt.Y("gs:Q", scale=YS, axis=yaxis),
        color=alt.Color("stat:N", scale=alt.Scale(domain=[stat], range=["#0000ff"]),
                        legend=alt.Legend(orient="none", legendX=cx(leg[0]), legendY=cy(leg[1]), title=None,
                                          labelFont=SANS, labelFontSize=13, labelColor="black",
                                          symbolType="circle", symbolSize=26, symbolOpacity=1,
                                          symbolStrokeWidth=0, labelOffset=2, padding=0))))
    th = pd.DataFrame(list(zip(tlo, thi, tn)), columns=["lo", "hi", "n"])
    th["z"] = 0
    out.append(alt.Chart(th).mark_rect(color="#ffc660").encode(
        x=alt.X("lo:Q", scale=XS, axis=None), x2="hi:Q",
        y=alt.Y("n:Q", scale=lin((0, max(tn)), cy(top), cy(top) - tpx), axis=None), y2="z:Q"))
    rh = pd.DataFrame(list(zip(rlo, rn)), columns=["lo", "n"])
    rh["hi"] = rh["lo"] + GS_BIN
    rh["z"] = 0
    out.append(alt.Chart(rh).mark_rect(color="#ff6464").encode(
        y=alt.Y("lo:Q", scale=YS, axis=None), y2="hi:Q",
        x=alt.X("n:Q", scale=lin((0, max(rn)), cx(right) + 1, cx(right) + 1 + rpx), axis=None), x2="z:Q"))
    return out


layers += scatter_panel(E_mm, E_gs, E_stat, (356, 612, 522, 720), (0.168, 1.196), (-0.48, 1.17),
                        "Module Membership in yellow module", 493, 4, (359, 522.5),
                        E_top_lo, E_top_hi, E_top_n, 19.7, E_right_lo, E_right_n, 19)
layers += scatter_panel(F_mm, F_gs, F_stat, (183, 442, 747, 949), (0.158, 1.13), (-0.478, 1.138),
                        "Module Membership in turquoise module", 323, 1, (186.4, 747.5),
                        F_top_lo, F_top_hi, F_top_n, 14.7, F_right_lo, F_right_n, 19.3)
layers += scatter_panel(G_mm, G_gs, G_stat, (490, 749, 745, 949), (0.175, 1.15), (-0.43, 1.17),
                        "Module Membership in blue module", 621.7, 2, (493.1, 744.5),
                        G_top_lo, G_top_hi, G_top_n, 21, G_right_lo, G_right_n, 18.7)

# ---------------- panel letters ----------------
one = pd.DataFrame({"k": [0]})
for letter, lx, ly in [("A", 0, 0), ("B", cx(476), 0), ("C", cx(473), cy(258)), ("D", 0, cy(512)),
                       ("E", cx(342), cy(512)), ("F", cx(162), cy(742)), ("G", cx(468), cy(743))]:
    layers.append(alt.Chart(one).mark_text(text=letter, align="left", baseline="top", font=SANS,
                                           fontSize=14, color="black").encode(
        x=alt.value(lx), y=alt.value(ly)))

chart = alt.layer(*layers).resolve_scale(
    x="independent", y="independent", color="independent"
).resolve_axis(x="independent", y="independent").resolve_legend(color="independent").properties(
    width=W, height=H, padding=0, autosize=alt.AutoSizeParams(type="none")
).configure_view(stroke=None).configure(font=SANS)

chart.save("out.html", embed_options={"renderer": "svg", "actions": False})
